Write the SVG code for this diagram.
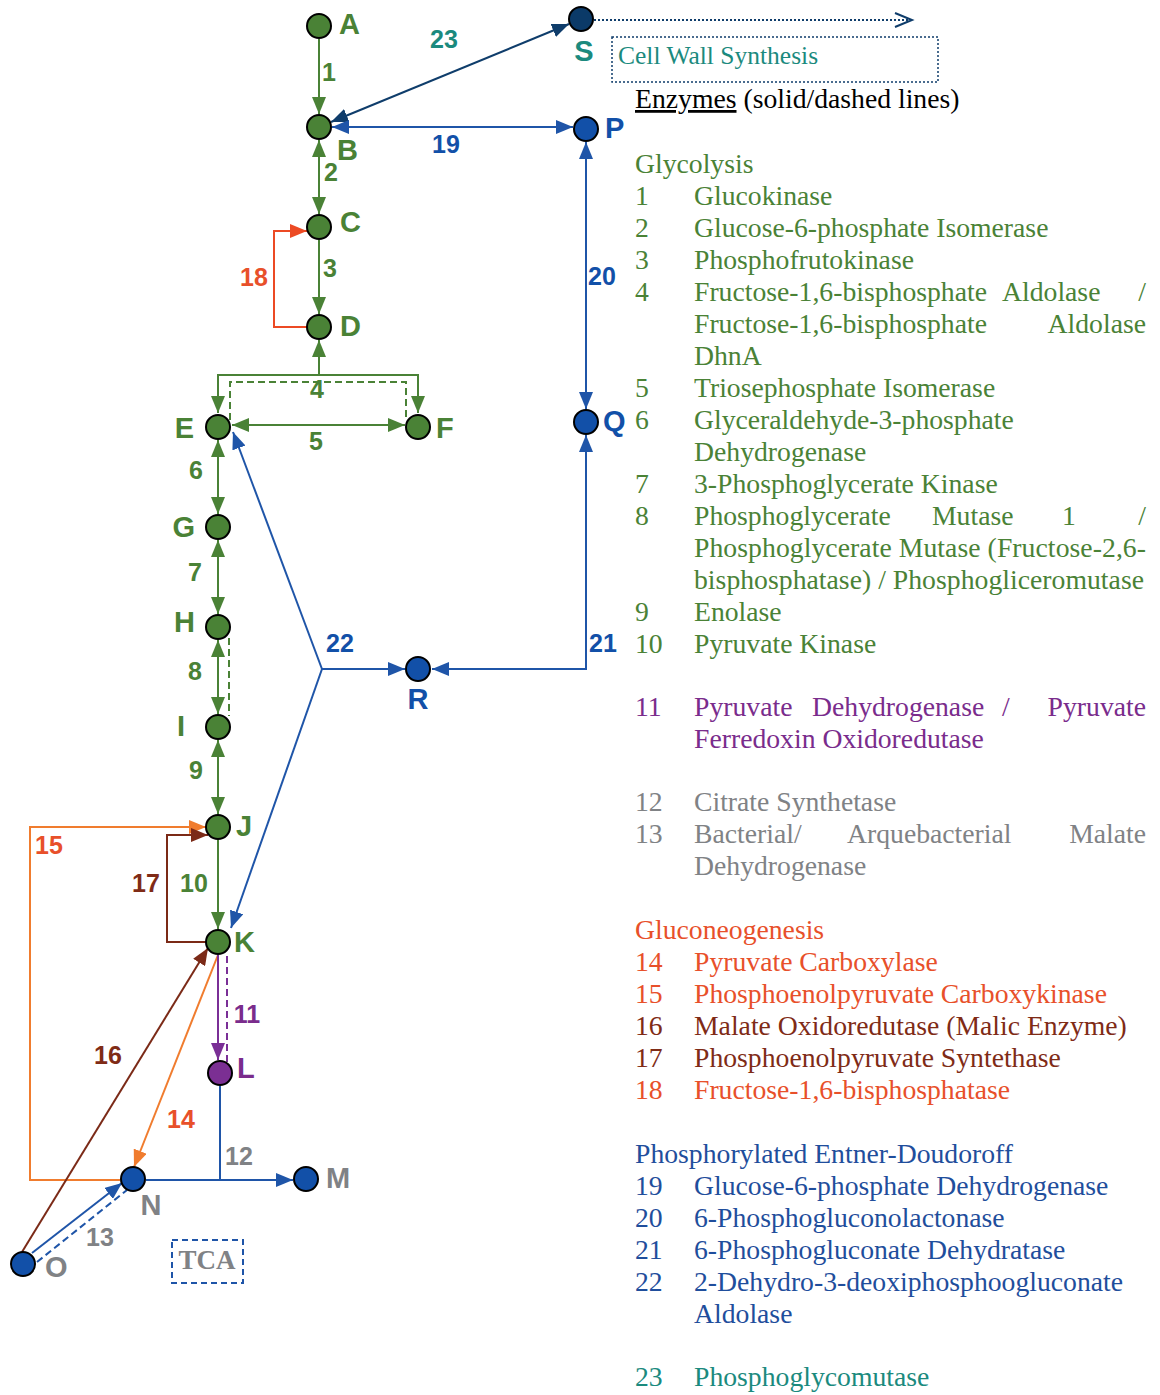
<svg xmlns="http://www.w3.org/2000/svg" width="1160" height="1395" viewBox="0 0 1160 1395">
<style>
.bg{fill:#ffffff}
.node{stroke:#000;stroke-width:2}
.ng{fill:#4a8236}.nb{fill:#1250a8}.ns{fill:#0b3a68}.np{fill:#7b2f93}
.nl{font-family:"Liberation Sans",Arial,sans-serif;font-weight:bold;font-size:29px}
.el{font-family:"Liberation Sans",Arial,sans-serif;font-weight:bold;font-size:25px;text-anchor:middle}
.lg{font-family:"Liberation Serif","Times New Roman",serif;font-size:27.7px}
.cw{font-family:"Liberation Serif","Times New Roman",serif;font-size:25.5px}
.tca{font-family:"Liberation Serif","Times New Roman",serif;font-size:27px;font-weight:bold}
.cg{fill:#4a8236}.cb{fill:#1f4e9c}.cp{fill:#7a2c8c}.cy{fill:#808285}.co{fill:#e8502a}.cr{fill:#7f2b16}.ct{fill:#1b8a7e}.ck{fill:#000}.cbl{fill:#1250a8}
.e{fill:none;stroke-width:2}
.sg{stroke:#4a8236}.sb{stroke:#1f55a8}.sn{stroke:#0f3d6b}.so{stroke:#f07c2e}.sr{stroke:#ec4a24}.sk{stroke:#7b2a17}.sp{stroke:#7a2f96}
.dash{stroke-dasharray:7 4}
</style>
<defs>
<marker id="ag" markerUnits="userSpaceOnUse" markerWidth="17" markerHeight="14" viewBox="0 0 17 14" refX="17" refY="7" orient="auto-start-reverse"><path d="M0,0 L17,7 L0,14 z" fill="#4a8236"/></marker>
<marker id="ab" markerUnits="userSpaceOnUse" markerWidth="17" markerHeight="14" viewBox="0 0 17 14" refX="17" refY="7" orient="auto-start-reverse"><path d="M0,0 L17,7 L0,14 z" fill="#1f55a8"/></marker>
<marker id="an" markerUnits="userSpaceOnUse" markerWidth="17" markerHeight="14" viewBox="0 0 17 14" refX="17" refY="7" orient="auto-start-reverse"><path d="M0,0 L17,7 L0,14 z" fill="#0f3d6b"/></marker>
<marker id="ao" markerUnits="userSpaceOnUse" markerWidth="17" markerHeight="14" viewBox="0 0 17 14" refX="17" refY="7" orient="auto-start-reverse"><path d="M0,0 L17,7 L0,14 z" fill="#f07c2e"/></marker>
<marker id="ar" markerUnits="userSpaceOnUse" markerWidth="17" markerHeight="14" viewBox="0 0 17 14" refX="17" refY="7" orient="auto-start-reverse"><path d="M0,0 L17,7 L0,14 z" fill="#ec4a24"/></marker>
<marker id="ak" markerUnits="userSpaceOnUse" markerWidth="17" markerHeight="14" viewBox="0 0 17 14" refX="17" refY="7" orient="auto-start-reverse"><path d="M0,0 L17,7 L0,14 z" fill="#7b2a17"/></marker>
<marker id="ap" markerUnits="userSpaceOnUse" markerWidth="17" markerHeight="14" viewBox="0 0 17 14" refX="17" refY="7" orient="auto-start-reverse"><path d="M0,0 L17,7 L0,14 z" fill="#7a2f96"/></marker>
</defs>
<rect class="bg" x="0" y="0" width="1160" height="1395"/>

<g id="connectors">
  <!-- 1 -->
  <line class="e sg" x1="319" y1="39" x2="319" y2="114" marker-end="url(#ag)"/>
  <!-- 23 -->
  <line class="e sn" x1="331" y1="122" x2="569" y2="24" marker-start="url(#an)" marker-end="url(#an)"/>
  <!-- S dotted out -->
  <line class="e sn" x1="594" y1="20" x2="911" y2="20" stroke-dasharray="2 2"/>
  <polyline class="e sn" points="895,13 912,20 895,27"/>
  <!-- 19 -->
  <line class="e sb" x1="332" y1="127" x2="573" y2="127" marker-start="url(#ab)" marker-end="url(#ab)"/>
  <!-- 2 -->
  <line class="e sg" x1="319" y1="140" x2="319" y2="214" marker-start="url(#ag)" marker-end="url(#ag)"/>
  <!-- 3 -->
  <line class="e sg" x1="319" y1="240" x2="319" y2="314" marker-end="url(#ag)"/>
  <!-- 18 -->
  <path class="e sr" d="M307,327 H274 V231 H307" marker-end="url(#ar)"/>
  <!-- 4 -->
  <line class="e sg" x1="319" y1="375" x2="319" y2="340" marker-end="url(#ag)"/>
  <path class="e sg" d="M218,413 V375 H418 V413" marker-start="url(#ag)" marker-end="url(#ag)"/>
  <path class="e sg dash" d="M230,420 V382 H406 V420"/>
  <!-- 5 -->
  <line class="e sg" x1="232" y1="425" x2="405" y2="425" marker-start="url(#ag)" marker-end="url(#ag)"/>
  <!-- 6 -->
  <line class="e sg" x1="218" y1="440" x2="218" y2="514" marker-start="url(#ag)" marker-end="url(#ag)"/>
  <!-- 7 -->
  <line class="e sg" x1="218" y1="540" x2="218" y2="614" marker-start="url(#ag)" marker-end="url(#ag)"/>
  <!-- 8 -->
  <line class="e sg" x1="218" y1="640" x2="218" y2="714" marker-start="url(#ag)" marker-end="url(#ag)"/>
  <line class="e sg dash" x1="229" y1="638" x2="229" y2="716"/>
  <!-- 9 -->
  <line class="e sg" x1="218" y1="740" x2="218" y2="814" marker-start="url(#ag)" marker-end="url(#ag)"/>
  <!-- 10 -->
  <line class="e sg" x1="218" y1="840" x2="218" y2="929" marker-end="url(#ag)"/>
  <!-- 15 -->
  <path class="e so" d="M120,1180 H30 V827 H206" marker-end="url(#ao)"/>
  <!-- 17 -->
  <path class="e sk" d="M206,942 H167 V835 H208" marker-end="url(#ak)"/>
  <!-- 16 -->
  <line class="e sk" x1="22" y1="1252" x2="208" y2="948" marker-end="url(#ak)"/>
  <!-- 14 -->
  <line class="e so" x1="218" y1="955" x2="134" y2="1167" marker-end="url(#ao)"/>
  <!-- 11 -->
  <line class="e sp" x1="218" y1="955" x2="218" y2="1060" marker-end="url(#ap)"/>
  <line class="e sp dash" x1="227" y1="956" x2="227" y2="1063"/>
  <!-- 12 -->
  <line class="e sb" x1="220" y1="1086" x2="220" y2="1180"/>
  <line class="e sb" x1="146" y1="1180" x2="293" y2="1180" marker-end="url(#ab)"/>
  <!-- 13 -->
  <line class="e sb" x1="32" y1="1253" x2="122" y2="1183" marker-end="url(#ab)"/>
  <line class="e sb dash" x1="37" y1="1262" x2="127" y2="1190"/>
  <!-- 20 -->
  <line class="e sb" x1="586" y1="142" x2="586" y2="409" marker-start="url(#ab)" marker-end="url(#ab)"/>
  <!-- 21 -->
  <path class="e sb" d="M586,669 V435" marker-end="url(#ab)"/>
  <line class="e sb" x1="587" y1="669" x2="432" y2="669" marker-end="url(#ab)"/>
  <!-- 22 -->
  <line class="e sb" x1="322" y1="669" x2="233" y2="432" marker-end="url(#ab)"/>
  <line class="e sb" x1="322" y1="669" x2="231" y2="928" marker-end="url(#ab)"/>
  <line class="e sb" x1="322" y1="669" x2="405" y2="669" marker-end="url(#ab)"/>

  <!-- edge labels -->
  <text class="el cg" x="329" y="81">1</text>
  <text class="el cg" x="331" y="181">2</text>
  <text class="el cg" x="330" y="277">3</text>
  <text class="el cg" x="317" y="398">4</text>
  <text class="el cg" x="316" y="450">5</text>
  <text class="el cg" x="196" y="479">6</text>
  <text class="el cg" x="195" y="581">7</text>
  <text class="el cg" x="195" y="680">8</text>
  <text class="el cg" x="196" y="779">9</text>
  <text class="el cg" x="194" y="892">10</text>
  <text class="el cp" x="247" y="1023">11</text>
  <text class="el cy" x="239" y="1165">12</text>
  <text class="el cy" x="100" y="1246">13</text>
  <text class="el co" x="181" y="1128">14</text>
  <text class="el co" x="49" y="854">15</text>
  <text class="el cr" x="108" y="1064">16</text>
  <text class="el cr" x="146" y="892">17</text>
  <text class="el co" x="254" y="286">18</text>
  <text class="el cbl" x="446" y="153">19</text>
  <text class="el cbl" x="602" y="285">20</text>
  <text class="el cbl" x="603" y="652">21</text>
  <text class="el cbl" x="340" y="652">22</text>
  <text class="el ct" x="444" y="48">23</text>
</g>

<g id="node-A"><circle class="node ng" cx="319" cy="26" r="12"/><text class="nl cg" x="339" y="34">A</text></g>
<g id="node-B"><circle class="node ng" cx="319" cy="127" r="12"/><text class="nl cg" x="337" y="160">B</text></g>
<g id="node-C"><circle class="node ng" cx="319" cy="227" r="12"/><text class="nl cg" x="340" y="232">C</text></g>
<g id="node-D"><circle class="node ng" cx="319" cy="327" r="12"/><text class="nl cg" x="340" y="336">D</text></g>
<g id="node-E"><circle class="node ng" cx="218" cy="427" r="12"/><text class="nl cg" x="194" y="438" text-anchor="end">E</text></g>
<g id="node-F"><circle class="node ng" cx="418" cy="427" r="12"/><text class="nl cg" x="436" y="438">F</text></g>
<g id="node-G"><circle class="node ng" cx="218" cy="527" r="12"/><text class="nl cg" x="195" y="537" text-anchor="end">G</text></g>
<g id="node-H"><circle class="node ng" cx="218" cy="627" r="12"/><text class="nl cg" x="195" y="632" text-anchor="end">H</text></g>
<g id="node-I"><circle class="node ng" cx="218" cy="727" r="12"/><text class="nl cg" x="185" y="736" text-anchor="end">I</text></g>
<g id="node-J"><circle class="node ng" cx="218" cy="827" r="12"/><text class="nl cg" x="236" y="836">J</text></g>
<g id="node-K"><circle class="node ng" cx="218" cy="942" r="12"/><text class="nl cg" x="234" y="952">K</text></g>
<g id="node-L"><circle class="node np" cx="220" cy="1073" r="12"/><text class="nl cp" x="237" y="1078">L</text></g>
<g id="node-M"><circle class="node nb" cx="306" cy="1179" r="12"/><text class="nl cy" x="326" y="1188">M</text></g>
<g id="node-N"><circle class="node nb" cx="133" cy="1179" r="12"/><text class="nl cy" x="151" y="1215" text-anchor="middle">N</text></g>
<g id="node-O"><circle class="node nb" cx="23" cy="1264" r="12"/><text class="nl cy" x="45" y="1277">O</text></g>
<g id="node-P"><circle class="node nb" cx="586" cy="129" r="12"/><text class="nl cbl" x="605" y="138">P</text></g>
<g id="node-Q"><circle class="node nb" cx="586" cy="422" r="12"/><text class="nl cbl" x="603" y="431">Q</text></g>
<g id="node-R"><circle class="node nb" cx="418" cy="669" r="12"/><text class="nl cbl" x="418" y="709" text-anchor="middle">R</text></g>
<g id="node-S"><circle class="node ns" cx="581" cy="19" r="12"/><text class="nl ct" x="584" y="61" text-anchor="middle">S</text></g>

<g id="cell-wall">
  <rect x="612" y="37" width="326" height="45" fill="none" stroke="#0f3d6b" stroke-width="1.5" stroke-dasharray="2 2"/>
  <text class="cw ct" x="618" y="64">Cell Wall Synthesis</text>
</g>

<g id="tca">
  <rect x="172" y="1240" width="71" height="43" fill="none" stroke="#1f55a8" stroke-width="2" stroke-dasharray="6 4"/>
  <text class="tca cy" x="207" y="1269" text-anchor="middle">TCA</text>
</g>

<g id="legend">
  <text class="lg ck" x="635" y="108"><tspan text-decoration="underline">Enzymes</tspan> (solid/dashed lines)</text>

  <text class="lg cg" x="635" y="173">Glycolysis</text>
  <text class="lg cg" x="635" y="205">1</text><text class="lg cg" x="694" y="205">Glucokinase</text>
  <text class="lg cg" x="635" y="237">2</text><text class="lg cg" x="694" y="237">Glucose-6-phosphate Isomerase</text>
  <text class="lg cg" x="635" y="269">3</text><text class="lg cg" x="694" y="269">Phosphofrutokinase</text>
  <text class="lg cg" x="635" y="301">4</text><text class="lg cg" x="694" y="301">Fructose-1,6-bisphosphate</text><text class="lg cg" x="1002" y="301">Aldolase</text><text class="lg cg" x="1146" y="301" text-anchor="end">/</text>
  <text class="lg cg" x="694" y="333">Fructose-1,6-bisphosphate</text><text class="lg cg" x="1146" y="333" text-anchor="end">Aldolase</text>
  <text class="lg cg" x="694" y="365">DhnA</text>
  <text class="lg cg" x="635" y="397">5</text><text class="lg cg" x="694" y="397">Triosephosphate Isomerase</text>
  <text class="lg cg" x="635" y="429">6</text><text class="lg cg" x="694" y="429">Glyceraldehyde-3-phosphate</text>
  <text class="lg cg" x="694" y="461">Dehydrogenase</text>
  <text class="lg cg" x="635" y="493">7</text><text class="lg cg" x="694" y="493">3-Phosphoglycerate Kinase</text>
  <text class="lg cg" x="635" y="525">8</text><text class="lg cg" x="694" y="525">Phosphoglycerate</text><text class="lg cg" x="932" y="525">Mutase</text><text class="lg cg" x="1062" y="525">1</text><text class="lg cg" x="1146" y="525" text-anchor="end">/</text>
  <text class="lg cg" x="694" y="557" textLength="452" lengthAdjust="spacing">Phosphoglycerate Mutase (Fructose-2,6-</text>
  <text class="lg cg" x="694" y="589" textLength="450" lengthAdjust="spacing">bisphosphatase) / Phosphogliceromutase</text>
  <text class="lg cg" x="635" y="621">9</text><text class="lg cg" x="694" y="621">Enolase</text>
  <text class="lg cg" x="635" y="653">10</text><text class="lg cg" x="694" y="653">Pyruvate Kinase</text>

  <text class="lg cp" x="635" y="716">11</text><text class="lg cp" x="694" y="716">Pyruvate</text><text class="lg cp" x="812" y="716">Dehydrogenase</text><text class="lg cp" x="1002" y="716">/</text><text class="lg cp" x="1146" y="716" text-anchor="end">Pyruvate</text>
  <text class="lg cp" x="694" y="748">Ferredoxin Oxidoredutase</text>

  <text class="lg cy" x="635" y="811">12</text><text class="lg cy" x="694" y="811">Citrate Synthetase</text>
  <text class="lg cy" x="635" y="843">13</text><text class="lg cy" x="694" y="843">Bacterial/</text><text class="lg cy" x="847" y="843">Arquebacterial</text><text class="lg cy" x="1146" y="843" text-anchor="end">Malate</text>
  <text class="lg cy" x="694" y="875">Dehydrogenase</text>

  <text class="lg co" x="635" y="939">Gluconeogenesis</text>
  <text class="lg co" x="635" y="971">14</text><text class="lg co" x="694" y="971">Pyruvate Carboxylase</text>
  <text class="lg co" x="635" y="1003">15</text><text class="lg co" x="694" y="1003">Phosphoenolpyruvate Carboxykinase</text>
  <text class="lg cr" x="635" y="1035">16</text><text class="lg cr" x="694" y="1035">Malate Oxidoredutase (Malic Enzyme)</text>
  <text class="lg cr" x="635" y="1067">17</text><text class="lg cr" x="694" y="1067">Phosphoenolpyruvate Syntethase</text>
  <text class="lg co" x="635" y="1099">18</text><text class="lg co" x="694" y="1099">Fructose-1,6-bisphosphatase</text>

  <text class="lg cb" x="635" y="1163">Phosphorylated Entner-Doudoroff</text>
  <text class="lg cb" x="635" y="1195">19</text><text class="lg cb" x="694" y="1195">Glucose-6-phosphate Dehydrogenase</text>
  <text class="lg cb" x="635" y="1227">20</text><text class="lg cb" x="694" y="1227">6-Phosphogluconolactonase</text>
  <text class="lg cb" x="635" y="1259">21</text><text class="lg cb" x="694" y="1259">6-Phosphogluconate Dehydratase</text>
  <text class="lg cb" x="635" y="1291">22</text><text class="lg cb" x="694" y="1291">2-Dehydro-3-deoxiphosphoogluconate</text>
  <text class="lg cb" x="694" y="1323">Aldolase</text>

  <text class="lg ct" x="635" y="1386">23</text><text class="lg ct" x="694" y="1386">Phosphoglycomutase</text>
</g>
</svg>
